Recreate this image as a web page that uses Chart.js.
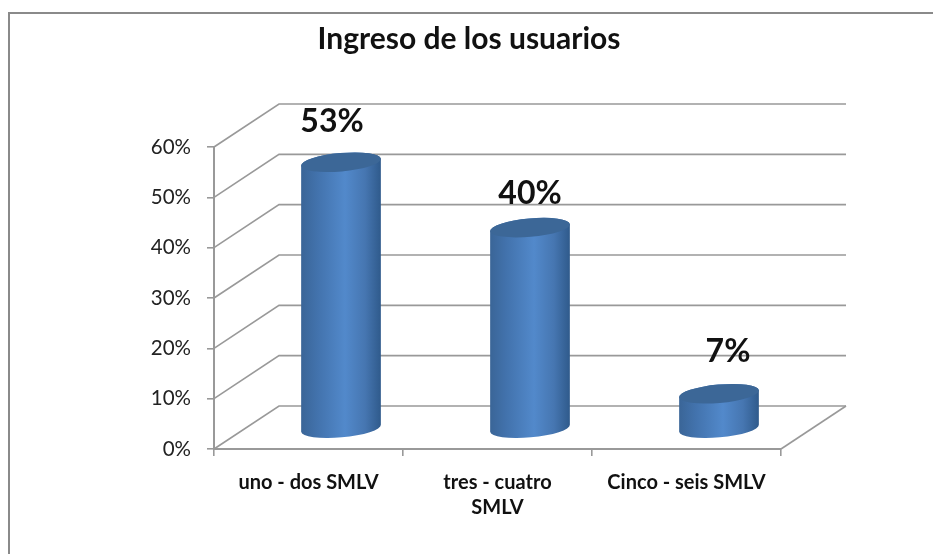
<!DOCTYPE html>
<html><head><meta charset="utf-8">
<style>html,body{margin:0;padding:0;background:#fff}#w{width:933px;height:554px;position:relative}</style>
<script src="https://cdn.jsdelivr.net/npm/chart.js@4"></script>
</head><body><div id="w"><canvas id="c"></canvas></div>
<script>
const categories = [["uno - dos SMLV"], ["tres - cuatro", "SMLV"], ["Cinco - seis SMLV"]];
const values = [53, 40, 7];
const valueLabels = ["53%", "40%", "7%"];
const titleText = "Ingreso de los usuarios";
const FONT = "Lato, 'Open Sans', sans-serif";
const GRID = "#999999";
const DEPTH = {dx: 65, dy: -43};
const LIFT = -20;
const RY = 9.2, ROT = -5 * Math.PI / 180;
const LABEL_NUDGE = [{x: -9, y: -41}, {x: 0, y: -34}, {x: 9, y: -42}];

const frame = {
  id: "frame",
  beforeDraw(ch) {
    const c = ch.ctx; c.save();
    c.fillStyle = "#fff"; c.fillRect(0, 0, ch.width, ch.height);
    c.strokeStyle = "#8a8a8a"; c.lineWidth = 2;
    c.beginPath(); c.moveTo(9, ch.height); c.lineTo(9, 13); c.lineTo(ch.width, 13); c.stroke();
    c.restore();
  }
};
const wall = {
  id: "wall",
  beforeDatasetsDraw(ch) {
    const c = ch.ctx, y = ch.scales.y, x = ch.scales.x;
    c.save(); c.strokeStyle = GRID; c.lineWidth = 1.6;
    y.ticks.forEach(t => {
      const py = y.getPixelForValue(t.value);
      c.beginPath(); c.moveTo(x.left, py); c.lineTo(x.left + DEPTH.dx, py + DEPTH.dy);
      c.lineTo(x.right + DEPTH.dx, py + DEPTH.dy); c.stroke();
    });
    const b = y.getPixelForValue(0);
    c.beginPath(); c.moveTo(x.right, b); c.lineTo(x.right + DEPTH.dx, b + DEPTH.dy); c.stroke();
    c.restore();
  }
};
const cylinders = {
  id: "cylinders",
  afterDatasetsDraw(ch) {
    const c = ch.ctx, meta = ch.getDatasetMeta(0);
    meta.data.forEach((bar, i) => {
      const cx = bar.x + DEPTH.dx / 2, rx = bar.width / 2;
      const top = bar.y + LIFT, bot = bar.base + LIFT;
      const g = c.createLinearGradient(cx - rx, 0, cx + rx, 0);
      g.addColorStop(0, "#3a6597"); g.addColorStop(0.2, "#4272ac");
      g.addColorStop(0.55, "#5289cb"); g.addColorStop(0.8, "#4676b1"); g.addColorStop(1, "#2f5a8b");
      c.save();
      c.beginPath();
      c.ellipse(cx, bot, rx, RY, ROT, Math.PI, 0, true);
      c.ellipse(cx, top, rx, RY, ROT, 0, Math.PI, true);
      c.closePath(); c.fillStyle = g; c.fill();
      c.beginPath(); c.ellipse(cx, top, rx, RY, ROT, 0, 2 * Math.PI);
      c.fillStyle = "#3c6797"; c.fill();
      c.fillStyle = "#111"; c.font = "bold 32px " + FONT;
      c.textAlign = "center"; c.textBaseline = "middle";
      c.fillText(valueLabels[i], cx + LABEL_NUDGE[i].x, top + LABEL_NUDGE[i].y);
      c.restore();
    });
  }
};

new Chart(document.getElementById("c"), {
  type: "bar",
  data: {labels: categories, datasets: [{data: values, backgroundColor: "rgba(0,0,0,0)", borderWidth: 0,
    categoryPercentage: 1, barPercentage: 80 / 189}]},
  plugins: [frame, wall, cylinders],
  options: {
    responsive: true, maintainAspectRatio: false, animation: false,
    layout: {padding: {left: 5, right: 0, top: 0, bottom: 0}},
    plugins: {
      legend: {display: false}, tooltip: {enabled: false},
      title: {display: true, text: titleText, color: "#111",
        font: {family: FONT, size: 30, weight: "bold", lineHeight: 1.2},
        padding: {top: 21, bottom: 147 - 21 - 36}}
    },
    scales: {
      x: {
        grid: {drawOnChartArea: false, tickColor: GRID, tickLength: 7, lineWidth: 1.6, offset: true},
        border: {color: GRID, width: 2},
        ticks: {color: "#111", padding: 14, maxRotation: 0, autoSkip: false,
          font: {family: FONT, size: 20, weight: "bold", lineHeight: 1.25}},
        afterFit: s => { s.height = 105; }
      },
      y: {
        min: 0, max: 60,
        grid: {drawOnChartArea: false, tickColor: GRID, tickLength: 7, lineWidth: 1.6},
        border: {color: GRID, width: 2},
        ticks: {stepSize: 10, color: "#222", padding: 16, font: {family: FONT, size: 20.5},
          callback: v => v + "%"},
        afterFit: s => { s.width = 209; }
      },
      pad: {
        position: "right", display: true, grid: {display: false}, border: {display: false},
        ticks: {display: false}, afterFit: s => { s.width = 152; }
      }
    }
  }
});
</script></body></html>
